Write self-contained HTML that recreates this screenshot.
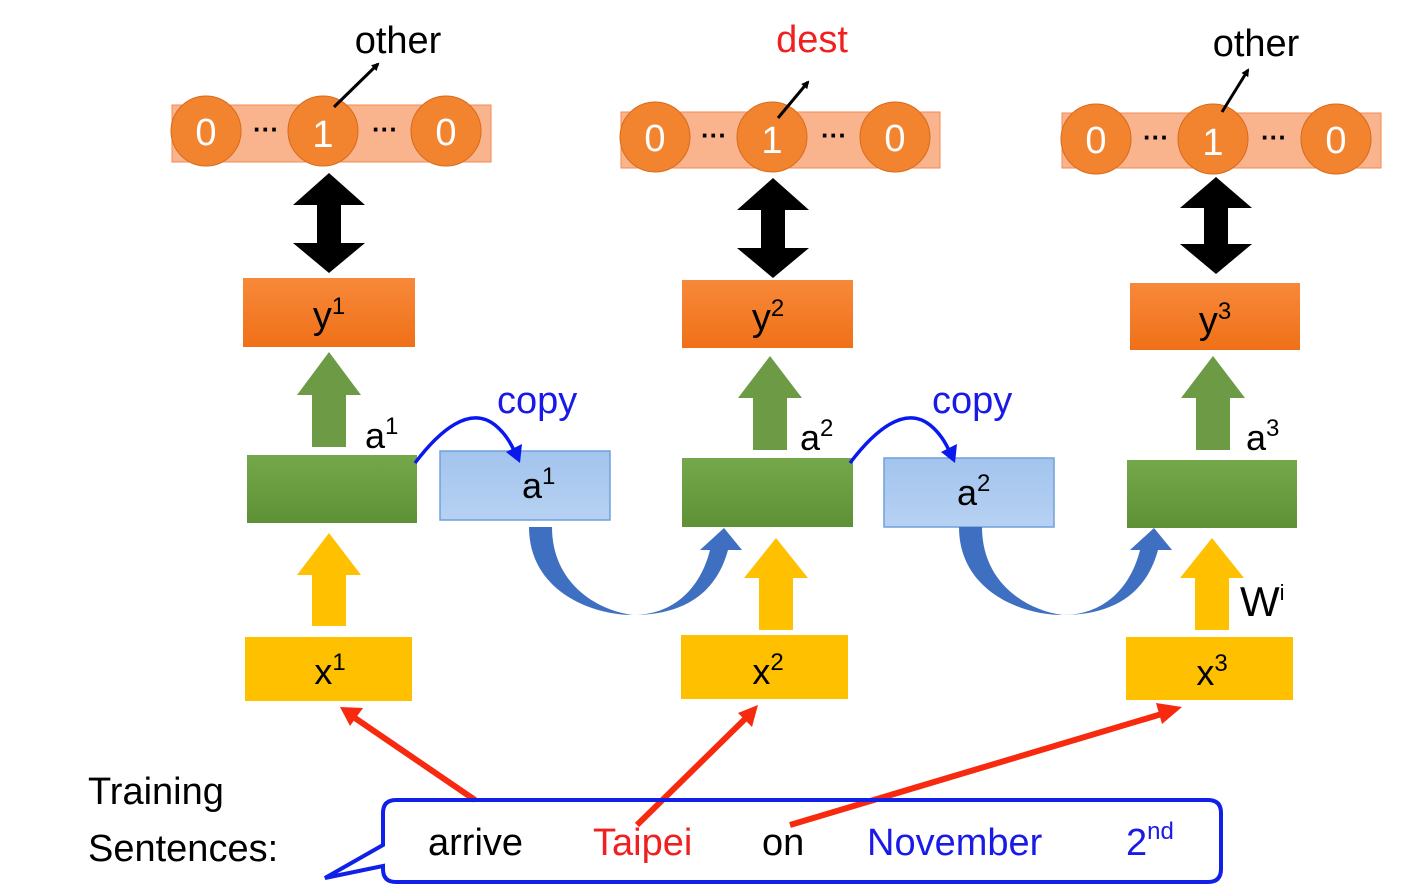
<!DOCTYPE html>
<html><head><meta charset="utf-8"><style>
html,body{margin:0;padding:0;background:#fff;}
svg{display:block;}
text{font-family:"Liberation Sans",sans-serif;}
</style></head><body>
<svg width="1401" height="896" viewBox="0 0 1401 896" xmlns="http://www.w3.org/2000/svg">
<defs>
<linearGradient id="og" x1="0" y1="0" x2="0" y2="1"><stop offset="0" stop-color="#f7893a"/><stop offset="1" stop-color="#f07018"/></linearGradient>
<linearGradient id="gg" x1="0" y1="0" x2="0" y2="1"><stop offset="0" stop-color="#75a84a"/><stop offset="1" stop-color="#5e9136"/></linearGradient>
<linearGradient id="bg" x1="0" y1="0" x2="0" y2="1"><stop offset="0" stop-color="#a3c4ee"/><stop offset="1" stop-color="#b6d1f2"/></linearGradient>
<marker id="bk" markerWidth="8" markerHeight="8" refX="6" refY="4" orient="auto" markerUnits="userSpaceOnUse" viewBox="0 0 8 8"><path d="M0,0 L8,4 L0,8 Z" fill="#000"/></marker>
</defs>

<!-- column template drawn 3 times -->
<g id="c1">
<rect x="172" y="105" width="319" height="57" fill="#f9b48e" stroke="#f28a50"/>
<circle cx="206" cy="131" r="35" fill="#f28430" stroke="#d86a1a"/>
<circle cx="323" cy="131" r="35" fill="#f28430" stroke="#d86a1a"/>
<circle cx="446" cy="131" r="35" fill="#f28430" stroke="#d86a1a"/>
<text x="206" y="145" font-size="38" fill="#fff" text-anchor="middle">0</text>
<text x="323" y="147" font-size="38" fill="#fff" text-anchor="middle">1</text>
<text x="446" y="145" font-size="38" fill="#fff" text-anchor="middle">0</text>
<text x="266" y="138" font-size="26" font-weight="bold" text-anchor="middle">···</text>
<text x="385" y="138" font-size="26" font-weight="bold" text-anchor="middle">···</text>
<line x1="334" y1="107" x2="378" y2="64" stroke="#000" stroke-width="3" marker-end="url(#bk)"/>
<text x="398" y="53" font-size="38" text-anchor="middle">other</text>
<path d="M329,173 L365,205 L341,205 L341,243 L365,243 L329,273 L293,243 L317,243 L317,205 L293,205 Z" fill="#000"/>
<rect x="243" y="278" width="172" height="69" fill="url(#og)"/>
<text x="329" y="328" font-size="38" text-anchor="middle">y<tspan font-size="24" dy="-14">1</tspan></text>
<path d="M329,352 L361,395 L346,395 L346,447 L312,447 L312,395 L297,395 Z" fill="#6c9a45"/>
<text x="365" y="448" font-size="36">a<tspan font-size="24" dy="-14">1</tspan></text>
<rect x="247" y="455" width="170" height="68" fill="url(#gg)"/>
<path d="M329,533 L361,575 L346,575 L346,626 L312,626 L312,575 L297,575 Z" fill="#ffc000"/>
<rect x="245" y="637" width="167" height="64" fill="#ffc000"/>
<text x="330" y="684" font-size="36" text-anchor="middle">x<tspan font-size="24" dy="-14">1</tspan></text>
</g>

<g>
<rect x="621" y="112" width="319" height="56" fill="#f9b48e" stroke="#f28a50"/>
<circle cx="655" cy="137" r="35" fill="#f28430" stroke="#d86a1a"/>
<circle cx="772" cy="137" r="35" fill="#f28430" stroke="#d86a1a"/>
<circle cx="895" cy="137" r="35" fill="#f28430" stroke="#d86a1a"/>
<text x="655" y="151" font-size="38" fill="#fff" text-anchor="middle">0</text>
<text x="772" y="153" font-size="38" fill="#fff" text-anchor="middle">1</text>
<text x="895" y="151" font-size="38" fill="#fff" text-anchor="middle">0</text>
<text x="714" y="144" font-size="26" font-weight="bold" text-anchor="middle">···</text>
<text x="834" y="144" font-size="26" font-weight="bold" text-anchor="middle">···</text>
<line x1="778" y1="118" x2="808" y2="82" stroke="#000" stroke-width="3" marker-end="url(#bk)"/>
<text x="812" y="52" font-size="38" fill="#f02020" text-anchor="middle">dest</text>
<path d="M773,178 L809,210 L785,210 L785,248 L809,248 L773,278 L737,248 L761,248 L761,210 L737,210 Z" fill="#000"/>
<rect x="682" y="280" width="171" height="68" fill="url(#og)"/>
<text x="768" y="330" font-size="38" text-anchor="middle">y<tspan font-size="24" dy="-14">2</tspan></text>
<path d="M770,356 L802,398 L787,398 L787,450 L753,450 L753,398 L738,398 Z" fill="#6c9a45"/>
<text x="800" y="450" font-size="36">a<tspan font-size="24" dy="-14">2</tspan></text>
<rect x="682" y="458" width="171" height="69" fill="url(#gg)"/>
<path d="M776,538 L808,578 L793,578 L793,630 L759,630 L759,578 L744,578 Z" fill="#ffc000"/>
<rect x="681" y="635" width="167" height="64" fill="#ffc000"/>
<text x="768" y="684" font-size="36" text-anchor="middle">x<tspan font-size="24" dy="-14">2</tspan></text>
</g>

<g>
<rect x="1062" y="113" width="319" height="55" fill="#f9b48e" stroke="#f28a50"/>
<circle cx="1096" cy="139" r="35" fill="#f28430" stroke="#d86a1a"/>
<circle cx="1213" cy="139" r="35" fill="#f28430" stroke="#d86a1a"/>
<circle cx="1336" cy="139" r="35" fill="#f28430" stroke="#d86a1a"/>
<text x="1096" y="153" font-size="38" fill="#fff" text-anchor="middle">0</text>
<text x="1213" y="155" font-size="38" fill="#fff" text-anchor="middle">1</text>
<text x="1336" y="153" font-size="38" fill="#fff" text-anchor="middle">0</text>
<text x="1156" y="146" font-size="26" font-weight="bold" text-anchor="middle">···</text>
<text x="1274" y="146" font-size="26" font-weight="bold" text-anchor="middle">···</text>
<line x1="1222" y1="112" x2="1248" y2="70" stroke="#000" stroke-width="3" marker-end="url(#bk)"/>
<text x="1256" y="56" font-size="38" text-anchor="middle">other</text>
<path d="M1216,177 L1252,208 L1228,208 L1228,244 L1252,244 L1216,274 L1180,244 L1204,244 L1204,208 L1180,208 Z" fill="#000"/>
<rect x="1130" y="283" width="170" height="67" fill="url(#og)"/>
<text x="1215" y="333" font-size="38" text-anchor="middle">y<tspan font-size="24" dy="-14">3</tspan></text>
<path d="M1213,356 L1245,398 L1230,398 L1230,450 L1196,450 L1196,398 L1181,398 Z" fill="#6c9a45"/>
<text x="1246" y="450" font-size="36">a<tspan font-size="24" dy="-14">3</tspan></text>
<rect x="1127" y="460" width="170" height="68" fill="url(#gg)"/>
<path d="M1212,538 L1244,578 L1229,578 L1229,630 L1195,630 L1195,578 L1180,578 Z" fill="#ffc000"/>
<rect x="1126" y="637" width="167" height="63" fill="#ffc000"/>
<text x="1212" y="685" font-size="36" text-anchor="middle">x<tspan font-size="24" dy="-14">3</tspan></text>
<text x="1240" y="616" font-size="42">W<tspan font-size="22" dy="-16">i</tspan></text>
</g>

<!-- copy boxes -->
<rect x="440" y="451" width="170" height="69" fill="url(#bg)" stroke="#6fa0dc" stroke-width="1.5"/>
<text x="522" y="498" font-size="36">a<tspan font-size="24" dy="-14">1</tspan></text>
<rect x="884" y="458" width="170" height="69" fill="url(#bg)" stroke="#6fa0dc" stroke-width="1.5"/>
<text x="957" y="505" font-size="36">a<tspan font-size="24" dy="-14">2</tspan></text>

<!-- copy curves -->
<path d="M415,463 C440,430 470,405 495,425 C505,433 512,445 516,455" fill="none" stroke="#0a18f0" stroke-width="3.5"/>
<path d="M506,452 L520,463 L522,444 Z" fill="#0a18f0"/>
<text x="497" y="413" font-size="38" fill="#1a1ae8">copy</text>
<path d="M850,463 C875,430 905,405 930,425 C940,433 947,445 951,455" fill="none" stroke="#0a18f0" stroke-width="3.5"/>
<path d="M941,452 L955,463 L957,444 Z" fill="#0a18f0"/>
<text x="932" y="413" font-size="38" fill="#1a1ae8">copy</text>

<!-- big blue curved arrows -->
<path d="M529,527 C529,590 590,615 633,615 C672,615 700,590 710,550 L700,550 L724,528 L742,550 L728,550 C715,598 678,615 633,615 C595,610 552,582 552,527 Z" fill="#3f6fc0"/>
<path d="M959,527 C959,590 1020,615 1063,615 C1102,615 1130,590 1140,550 L1130,550 L1154,528 L1172,550 L1158,550 C1145,598 1108,615 1063,615 C1025,610 982,582 982,527 Z" fill="#3f6fc0"/>

<!-- red arrows -->
<g stroke="#f72a10" stroke-width="6" fill="none">
<line x1="475" y1="800" x2="352" y2="716"/>
<line x1="637" y1="825" x2="748" y2="716"/>
<line x1="790" y1="825" x2="1165" y2="713"/>
</g>
<path d="M340,707 L363,708 L350,726 Z" fill="#f72a10"/>
<path d="M758,705 L752,727 L738,713 Z" fill="#f72a10"/>
<path d="M1182,707 L1162,724 L1156,703 Z" fill="#f72a10"/>

<!-- bubble -->
<path d="M396,800 L1208,800 Q1221,800 1221,813 L1221,869 Q1221,882 1208,882 L396,882 Q383,882 383,869 L383,866 L325,878 L383,845 L383,813 Q383,800 396,800 Z" fill="none" stroke="#1020e8" stroke-width="4"/>
<text x="428" y="855" font-size="38">arrive</text>
<text x="593" y="855" font-size="38" fill="#f02020">Taipei</text>
<text x="762" y="855" font-size="38">on</text>
<text x="867" y="855" font-size="38" fill="#1a1ae8">November</text>
<text x="1126" y="855" font-size="38" fill="#1a1ae8">2<tspan font-size="24" dy="-16">nd</tspan></text>
<text x="88" y="804" font-size="38">Training</text>
<text x="88" y="861" font-size="38">Sentences:</text>
</svg>
</body></html>
